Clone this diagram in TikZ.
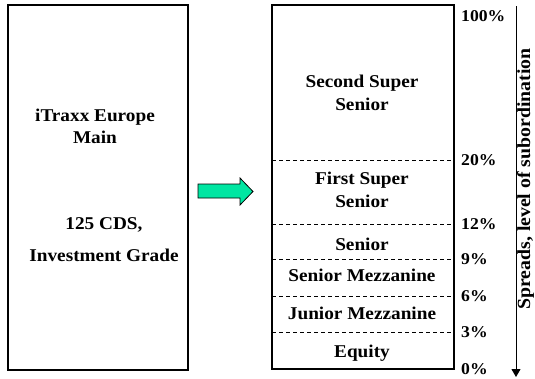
\documentclass[tikz,border=0pt]{standalone}
\usepackage{fontspec}
\setmainfont{Liberation Serif}[FakeStretch=1.07]
\usetikzlibrary{arrows.meta}

\definecolor{feedgreen}{RGB}{0,230,162}

\begin{document}
\begin{tikzpicture}[x=1pt, y=-1pt,
    box/.style={draw, line width=1.5pt, inner sep=0pt},
    boxtext/.style={anchor=base, inner sep=0pt, font=\fontsize{18}{22}\selectfont\bfseries},
    pcttext/.style={anchor=west, inner sep=0pt, font=\fontsize{16.5}{20}\selectfont\bfseries},
    cut/.style={dashed, dash pattern=on 4pt off 3pt, line width=0.9pt}]
    \useasboundingbox (0,0) rectangle (535,378);

    % Boxes
    \node[box, minimum width=180pt, minimum height=365pt] (pool) at (98,187.5) {};
    \node[box, minimum width=182pt, minimum height=364pt] (tranches) at (363,187) {};

    % Pool text
    \node[boxtext] (pool1) at (95,121) {iTraxx Europe};
    \node[boxtext] (pool2) at (95,143) {Main};
    \node[boxtext] (pool3) at (104,229) {125 CDS,};
    \node[boxtext] (pool4) at (104,261) {Investment Grade};

    % Arrow between the boxes
    \draw[fill=feedgreen, line width=0.8pt] (198,184) -- (240,184) -- (240,178) -- (253,191.5)
        -- (240,205) -- (240,198) -- (198,198) -- cycle;

    % Tranche boundaries
    \coordinate (l20) at (272,160);  \coordinate (r20) at (454,160);
    \coordinate (l12) at (272,224);  \coordinate (r12) at (454,224);
    \coordinate (l9) at (272,259);   \coordinate (r9) at (454,259);
    \coordinate (l6) at (272,296);   \coordinate (r6) at (454,296);
    \coordinate (l3) at (272,332);   \coordinate (r3) at (454,332);
    \draw[cut] (l20) -- (r20);
    \draw[cut] (l12) -- (r12);
    \draw[cut] (l9) -- (r9);
    \draw[cut] (l6) -- (r6);
    \draw[cut] (l3) -- (r3);

    % Tranche names
    \node[boxtext] (ss1) at (362,87) {Second Super};
    \node[boxtext] (ss2) at (362,110) {Senior};
    \node[boxtext] (fs1) at (362,184) {First Super};
    \node[boxtext] (fs2) at (362,207) {Senior};
    \node[boxtext] (sen) at (362,250) {Senior};
    \node[boxtext] (smez) at (362,281) {Senior Mezzanine};
    \node[boxtext] (jmez) at (362,319) {Junior Mezzanine};
    \node[boxtext] (eq) at (362,357) {Equity};

    % Attachment points
    \node[pcttext] (p100) at (461,16) {100\%};
    \node[pcttext] (p20) at (461,160) {20\%};
    \node[pcttext] (p12) at (461,224) {12\%};
    \node[pcttext] (p9) at (461,259) {9\%};
    \node[pcttext] (p6) at (461,296) {6\%};
    \node[pcttext] (p3) at (461,332) {3\%};
    \node[pcttext] (p0) at (461,369) {0\%};

    % Subordination axis
    \coordinate (atop) at (516,6);
    \coordinate (abot) at (516,377);
    \draw[line width=1pt, -{Triangle[length=8pt, width=9pt]}] (atop) -- (abot);
    \node[rotate=90, anchor=base, inner sep=0pt, font=\fontsize{18.5}{22}\selectfont\bfseries]
        (axis) at (530,179) {Spreads, level of subordination};
\end{tikzpicture}
\end{document}
